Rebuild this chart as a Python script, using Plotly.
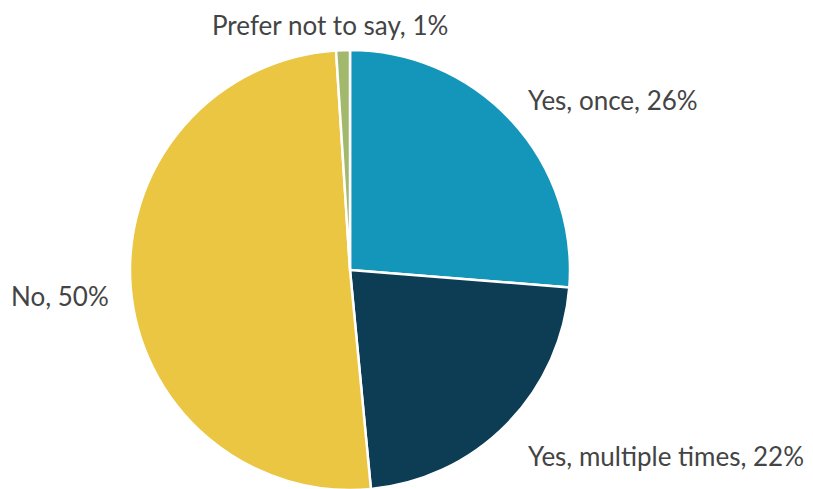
import plotly.graph_objects as go

labels = ["Yes, once", "Yes, multiple times", "No", "Prefer not to say"]
values = [26, 22, 50, 1]
colors = ["#1496BB", "#0D3C55", "#EAC643", "#A2B86C"]

W, H = 813, 489
OFF = 8  # page body margin offset

def px_x(x):
    return (x - OFF) / W

def px_y(y):
    return 1 - (y - OFF) / H

fig = go.Figure(go.Pie(
    labels=labels,
    values=values,
    sort=False,
    direction="clockwise",
    rotation=0,
    marker=dict(colors=colors, line=dict(color="white", width=2.5)),
    textinfo="none",
    domain=dict(x=[px_x(130), px_x(570)], y=[max(0.0, px_y(490)), px_y(50)]),
    showlegend=False,
    hoverinfo="label+percent",
))

# (x px, y px, xanchor, yanchor)
label_pos = [
    (527, 100, "left", "middle"),
    (527, 456, "left", "middle"),
    (110, 296, "right", "middle"),
    (330, OFF, "center", "top"),
]
font = dict(family="Lato, 'Source Sans Pro', sans-serif", size=26, color="#444444")
for lab, val, (px, py, xa, ya) in zip(labels, values, label_pos):
    fig.add_annotation(
        x=px_x(px), y=px_y(py), xref="paper", yref="paper",
        text=f"{lab}, {val}%", showarrow=False, borderpad=0,
        xanchor=xa, yanchor=ya, font=font,
    )

fig.update_layout(
    width=W, height=H,
    margin=dict(l=0, r=0, t=0, b=0),
    paper_bgcolor="white",
    plot_bgcolor="white",
)

fig.write_html("out.html")
